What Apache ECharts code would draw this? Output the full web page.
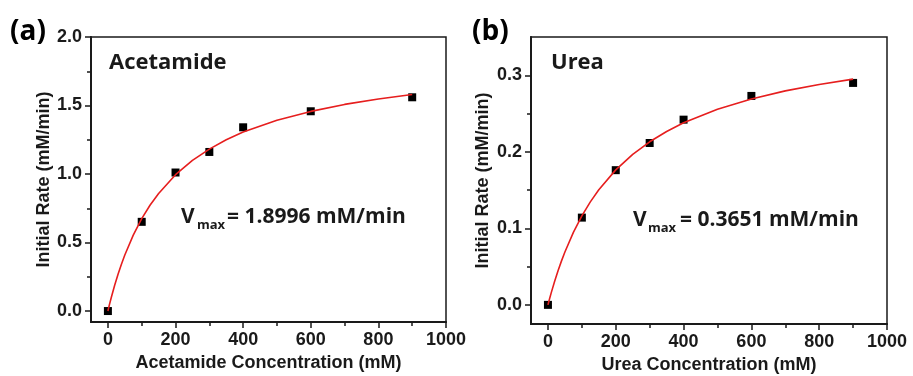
<!DOCTYPE html>
<html>
<head>
<meta charset="utf-8">
<script src="https://cdn.jsdelivr.net/npm/echarts@6/dist/echarts.min.js"></script>
<style>
  html, body { margin: 0; padding: 0; background: #fff; }
  #chart { width: 913px; height: 376px; }
</style>
</head>
<body>
<div id="chart"></div>
<script>
// measured points (mM, mM/min)
const concX = [0, 100, 200, 300, 400, 600, 900];
const acetRate = [0, 0.651, 1.011, 1.161, 1.341, 1.458, 1.560];
const ureaRate = [0, 0.114, 0.176, 0.2115, 0.242, 0.273, 0.290];

// fitted curves
const fitX = [0, 5, 10, 20, 30, 40, 50, 75, 100, 125, 150, 200, 250, 300, 350, 400, 500, 600, 700, 800, 900];
const acetFit = [0, 0.051, 0.099, 0.188, 0.269, 0.342, 0.409, 0.554, 0.674, 0.774, 0.858, 0.995, 1.099, 1.182, 1.250, 1.306, 1.393, 1.457, 1.508, 1.548, 1.580];
const ureaFit = [0, 0.0083, 0.0163, 0.0312, 0.0449, 0.0575, 0.0691, 0.0947, 0.1163, 0.1346, 0.1505, 0.1764, 0.1967, 0.2131, 0.2266, 0.2379, 0.2557, 0.2691, 0.2796, 0.2880, 0.2950];

const xMajor = [0, 200, 400, 600, 800, 1000];
const xMinor = [100, 300, 500, 700, 900];
const acetMajor = [0, 0.5, 1.0, 1.5, 2.0];
const acetMinor = [0.25, 0.75, 1.25, 1.75];
const ureaMajor = [0, 0.1, 0.2, 0.3];
const ureaMinor = [0.05, 0.15, 0.25];

const AXIS_FONT = "'Liberation Sans', Arial, sans-serif";
const TEXT_FONT = "'Open Sans', sans-serif";
const INK = "#1a1a1a";

function zip(xs, ys) {
  return xs.map((x, i) => [x, ys[i]]);
}

// axis that carries labels and the title, no ticks
function labelAxis(gridIndex, position, min, max, ticks, name, gap, fmt) {
  return {
    type: "value",
    gridIndex,
    position,
    min,
    max,
    name,
    nameLocation: "middle",
    nameGap: gap,
    nameTextStyle: { color: INK, fontFamily: AXIS_FONT, fontSize: 18, fontWeight: "bold" },
    axisLine: { show: true, onZero: false, lineStyle: { color: INK, width: 1.5 } },
    splitLine: { show: false },
    axisTick: { show: false },
    axisLabel: {
      customValues: ticks,
      margin: 9,
      color: INK,
      fontFamily: AXIS_FONT,
      fontSize: 18,
      fontWeight: "bold",
      formatter: fmt,
    },
  };
}

// axis that only draws tick marks
function tickAxis(gridIndex, position, min, max, ticks, len) {
  return {
    type: "value",
    gridIndex,
    position,
    offset: 0,
    min,
    max,
    axisLine: { show: true, onZero: false, lineStyle: { color: INK, width: 1.5 } },
    splitLine: { show: false },
    axisLabel: { show: false },
    axisTick: { show: true, inside: false, length: len, customValues: ticks, lineStyle: { color: INK, width: 1.5 } },
  };
}

const intFmt = (v) => String(Math.round(v));
const oneDec = (v) => v.toFixed(1);

function pointSeries(xi, yi, data) {
  return {
    type: "scatter",
    xAxisIndex: xi,
    yAxisIndex: yi,
    data,
    symbol: "rect",
    symbolSize: 8,
    itemStyle: { color: "#000", opacity: 1 },
    z: 3,
  };
}

function fitSeries(xi, yi, data) {
  return {
    type: "line",
    xAxisIndex: xi,
    yAxisIndex: yi,
    data,
    smooth: false,
    showSymbol: false,
    lineStyle: { color: "#e61e1e", width: 1.6 },
    z: 4,
  };
}

const chart = echarts.init(document.getElementById("chart"), null, { renderer: "canvas" });

chart.setOption({
  animation: false,
  backgroundColor: "#fff",
  grid: [
    { left: 91, top: 37, width: 355, height: 285, show: true, borderColor: INK, borderWidth: 1.5, backgroundColor: "transparent", outerBoundsMode: "none" },
    { left: 531, top: 37, width: 356, height: 287, show: true, borderColor: INK, borderWidth: 1.5, backgroundColor: "transparent", outerBoundsMode: "none" },
  ],
  xAxis: [
    labelAxis(0, "bottom", -50, 1000, xMajor, "Acetamide Concentration (mM)", 32, intFmt),
    tickAxis(0, "bottom", -50, 1000, xMajor, 6),
    tickAxis(0, "bottom", -50, 1000, xMinor, 4),
    labelAxis(1, "bottom", -50, 1000, xMajor, "Urea Concentration (mM)", 31, intFmt),
    tickAxis(1, "bottom", -50, 1000, xMajor, 6),
    tickAxis(1, "bottom", -50, 1000, xMinor, 4),
  ],
  yAxis: [
    labelAxis(0, "left", -0.08, 2.0, acetMajor, "Initial Rate (mM/min)", 38, oneDec),
    tickAxis(0, "left", -0.08, 2.0, acetMajor, 6),
    tickAxis(0, "left", -0.08, 2.0, acetMinor, 4),
    labelAxis(1, "left", -0.025, 0.35, ureaMajor, "Initial Rate (mM/min)", 39, oneDec),
    tickAxis(1, "left", -0.025, 0.35, ureaMajor, 6),
    tickAxis(1, "left", -0.025, 0.35, ureaMinor, 4),
  ],
  series: [
    pointSeries(0, 0, zip(concX, acetRate)),
    fitSeries(0, 0, zip(fitX, acetFit)),
    pointSeries(3, 3, zip(concX, ureaRate)),
    fitSeries(3, 3, zip(fitX, ureaFit)),
  ],
  graphic: [
    { type: "text", left: 10, top: 18, style: { text: "(a)", fill: "#000", font: `bold 28px ${TEXT_FONT}` } },
    { type: "text", left: 472, top: 18, style: { text: "(b)", fill: "#000", font: `bold 28px ${TEXT_FONT}` } },
    { type: "text", left: 109, top: 52, style: { text: "Acetamide", fill: INK, font: `bold 22px ${TEXT_FONT}` } },
    { type: "text", left: 551, top: 52, style: { text: "Urea", fill: INK, font: `bold 22px ${TEXT_FONT}` } },
    { type: "text", left: 181, top: 207, style: { text: "V", fill: INK, font: `bold 21px ${TEXT_FONT}` } },
    { type: "text", left: 197, top: 219, style: { text: "max", fill: INK, font: `bold 13px ${TEXT_FONT}` } },
    { type: "text", left: 227, top: 207, style: { text: "= 1.8996 mM/min", fill: INK, font: `bold 21px ${TEXT_FONT}` } },
    { type: "text", left: 633, top: 210, style: { text: "V", fill: INK, font: `bold 21px ${TEXT_FONT}` } },
    { type: "text", left: 648, top: 222, style: { text: "max", fill: INK, font: `bold 13px ${TEXT_FONT}` } },
    { type: "text", left: 680, top: 210, style: { text: "= 0.3651 mM/min", fill: INK, font: `bold 21px ${TEXT_FONT}` } },
  ],
});
</script>
</body>
</html>
